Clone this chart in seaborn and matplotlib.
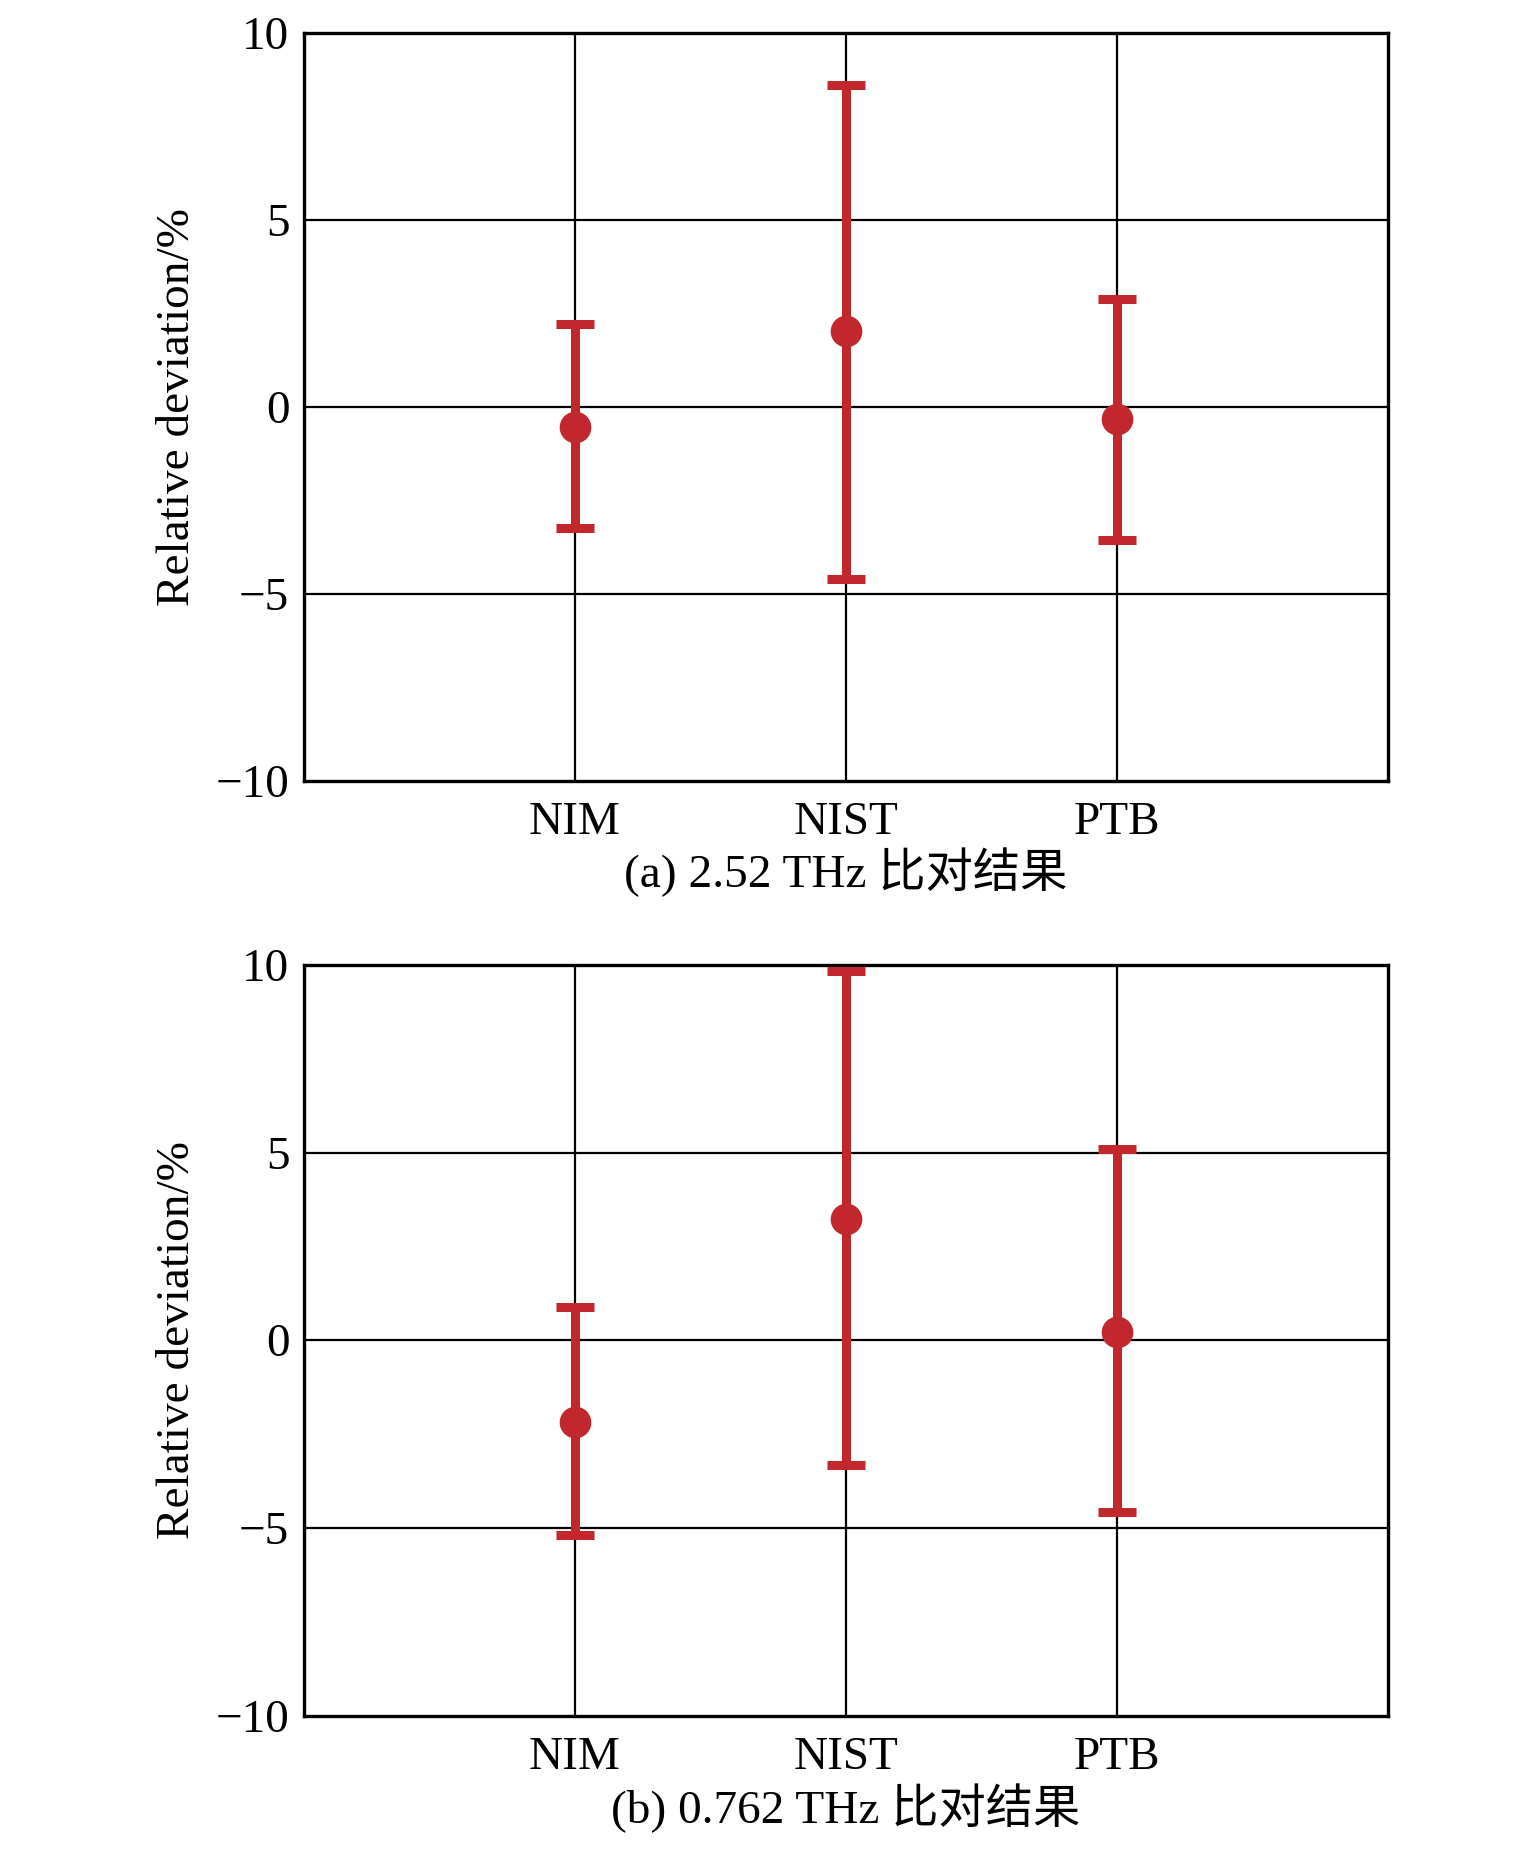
import numpy as np
import pandas as pd
import seaborn as sns
import matplotlib.pyplot as plt

# data
labs = ["NIM", "NIST", "PTB"]
dev_a = [-0.54, 2.02, -0.32]
upper_a = [2.2, 8.6, 2.87]
lower_a = [-3.25, -4.6, -3.56]
dev_b = [-2.17, 3.24, 0.22]
upper_b = [0.88, 9.84, 5.09]
lower_b = [-5.19, -3.33, -4.59]
captions = ["(a) 2.52 THz 比对结果", "(b) 0.762 THz 比对结果"]
yticks = [-10, -5, 0, 5, 10]

red = "#C1272D"
sns.set_theme(style="white")
plt.rcParams["font.family"] = ["Liberation Serif", "Noto Sans CJK SC"]
plt.rcParams["text.color"] = "black"
plt.rcParams["axes.labelcolor"] = "black"

fig = plt.figure(figsize=(15.35, 18.5), dpi=100)
ax_top = fig.add_axes([0.198, 0.578, 0.706, 0.4043])
ax_bot = fig.add_axes([0.198, 0.0727, 0.706, 0.4057])

panels = [
    (ax_top, dev_a, upper_a, lower_a, captions[0]),
    (ax_bot, dev_b, upper_b, lower_b, captions[1]),
]

for ax, dev, up, lo, cap in panels:
    df = pd.DataFrame({"x": np.arange(1, len(labs) + 1), "lab": labs,
                       "dev": dev, "up": up, "lo": lo})
    ax.set_axisbelow(True)
    for v in [-5, 0, 5]:
        ax.axhline(v, color="black", lw=1.6, zorder=1)
    for xv in df["x"]:
        ax.axvline(xv, color="black", lw=1.6, zorder=1)
    yerr = [df["dev"] - df["lo"], df["up"] - df["dev"]]
    ax.errorbar(df["x"], df["dev"], yerr=yerr, fmt="none", ecolor=red,
                elinewidth=6.5, capsize=14, capthick=6.5, zorder=3)
    sns.scatterplot(data=df, x="x", y="dev", ax=ax, color=red, s=520,
                    edgecolor=red, linewidth=0, zorder=4, legend=False)
    ax.set_xlim(0, 4)
    ax.set_ylim(-10, 10)
    ax.set_xticks(df["x"])
    ax.set_xticklabels(labs)
    ax.set_yticks(yticks)
    ax.set_yticklabels(["\u221210", "\u22125", "0", "5", "10"])
    ax.tick_params(axis="both", labelsize=34, direction="out", length=7,
                   width=1.6, color="black", labelcolor="black")
    ax.tick_params(axis="x", pad=8)
    ax.set_xlabel("")
    ax.set_ylabel("Relative deviation/%", fontsize=34, labelpad=12)
    for s in ax.spines.values():
        s.set_color("black")
        s.set_linewidth(2.4)
    ax.text(0.5, -0.123, cap, transform=ax.transAxes, ha="center",
            va="center", fontsize=34, color="black")

fig.savefig("out.png", dpi=100, facecolor="white")
